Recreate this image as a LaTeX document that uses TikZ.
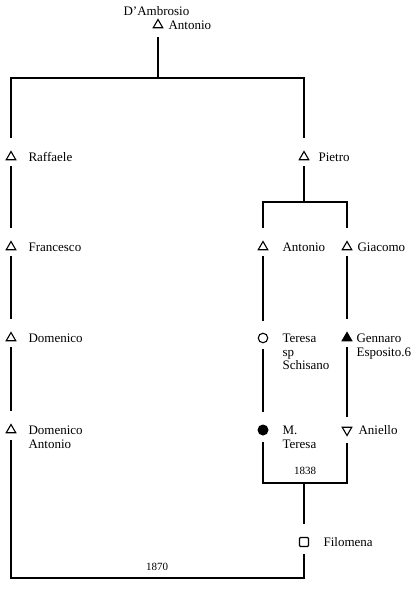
\documentclass[tikz,border=0pt]{standalone}
\usepackage{fontspec}
\setmainfont{Liberation Serif}
\usetikzlibrary{shapes.geometric}
\begin{document}
\begin{tikzpicture}[x=1pt,y=-1pt,
  line width=1.2pt,
  every node/.style={inner sep=0pt, line width=1.1pt},
  male/.style={draw, regular polygon, regular polygon sides=3, minimum size=11pt},
  malefill/.style={male, fill=black},
  maledown/.style={male, shape border rotate=180},
  female/.style={draw, circle, minimum size=9.5pt},
  femalefill/.style={circle, fill=black, minimum size=11pt},
  unknown/.style={draw, rectangle, rounded corners=1pt, minimum size=9pt},
  txt/.style={anchor=base west, align=left, font=\fontsize{13}{13.5}\selectfont},
  year/.style={font=\fontsize{11}{12}\selectfont},
  link/.style={shorten <=6pt, shorten >=12pt}]
\path[use as bounding box] (0,0) rectangle (410,596);

% individuals
\node[male] (a0)  at (158,25)  {};
\node[male] (raf) at (11,157)  {};
\node[male] (fra) at (11,247)  {};
\node[male] (dom) at (11,338)  {};
\node[male] (doa) at (11,430)  {};
\node[male] (pie) at (304,157) {};
\node[male] (ant) at (263,247) {};
\node[male] (gia) at (347,247) {};
\node[female] (ter) at (263,338) {};
\node[malefill] (gen) at (347,338) {};
\node[femalefill] (mte) at (263,430) {};
\node[maledown] (ani) at (347,430) {};
\node[unknown] (fil) at (304,542) {};

% names (multi-line names sit on the baseline of their last line)
\node[txt] (surname) at (123,16)   {D'Ambrosio};
\node[txt] (a0t)  at (168,29.5)  {Antonio};
\node[txt] (raft) at (28,161.5)  {Raffaele};
\node[txt] (frat) at (28,251.5)  {Francesco};
\node[txt] (domt) at (28,342.5)  {Domenico};
\node[txt] (doat) at (28,448)    {Domenico\\Antonio};
\node[txt] (piet) at (318,161.5) {Pietro};
\node[txt] (antt) at (282,251.5) {Antonio};
\node[txt] (giat) at (357,251.5) {Giacomo};
\node[txt] (tert) at (282,369.5) {Teresa\\sp\\Schisano};
\node[txt] (gent) at (356,356)   {Gennaro\\Esposito.6};
\node[txt] (mtet) at (282,448)   {M.\\Teresa};
\node[txt] (anit) at (358,434.5) {Aniello};
\node[txt] (filt) at (323,546.5) {Filomena};

% marriage years
\node[year] (y1838) at (305,471) {1838};
\node[year] (y1870) at (157,567) {1870};

% bars
\coordinate (bartop) at (158,78);
\coordinate (barpie) at (304,202);
\coordinate (barmar) at (304,483);
\coordinate (barbot) at (304,578);

% first generation
\draw[shorten <=9pt, shorten >=12pt] (a0) -- (bartop) -| (raf);
\draw[shorten >=12pt] (bartop) -| (pie);

% left line
\draw[link] (raf) -- (fra);
\draw[link] (fra) -- (dom);
\draw[link] (dom) -- (doa);

% Pietro's sons
\draw[shorten <=6pt] (pie) -- (barpie);
\draw[shorten >=12pt] (barpie) -| (ant);
\draw[shorten >=12pt] (barpie) -| (gia);
\draw[link] (ant) -- (ter);
\draw[link] (ter) -- (mte);
\draw[link] (gia) -- (gen);
\draw[shorten <=6pt, shorten >=9.5pt] (gen) -- (ani);

% marriage of M. Teresa and Aniello
\draw[shorten <=6pt, shorten >=6pt] (mte) -- (mte |- barmar) -| (ani);
\draw[shorten >=13pt] (barmar) -- (fil);

% marriage of Domenico Antonio and Filomena
\draw[shorten <=7pt, shorten >=6.5pt] (fil) -- (barbot) -| (doa);
\end{tikzpicture}
\end{document}
